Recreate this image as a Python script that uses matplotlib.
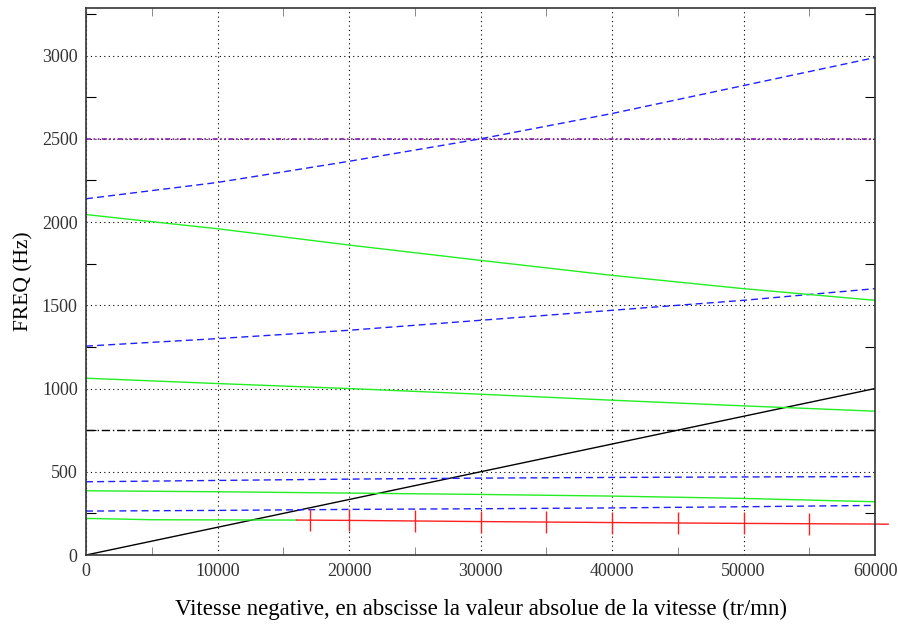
import numpy as np
import matplotlib
matplotlib.use("Agg")
import matplotlib.pyplot as plt
from matplotlib.ticker import MultipleLocator

# speed (tr/mn)
vitesse = [0, 10000, 20000, 30000, 40000, 50000, 60000]

# blue dashed modes
bleu_1 = [2140, 2238, 2365, 2500, 2652, 2820, 2988]
bleu_2 = [1255, 1300, 1350, 1410, 1470, 1530, 1600]
bleu_3 = [440, 448, 456, 462, 466, 469, 471]
bleu_4 = [264, 268, 274, 278, 283, 290, 298]

# green solid modes
vert_1 = [2045, 1960, 1862, 1770, 1680, 1600, 1530]
vert_2 = [1062, 1030, 1000, 966, 930, 896, 864]
vert_3 = [386, 380, 372, 364, 354, 340, 320]

# lowest mode: green then red with markers
vitesse_bas = [0, 5000, 10000, 16000]
vert_4 = [220, 212, 211, 210]
vitesse_rouge = [16000, 20000, 30000, 40000, 50000, 60000, 61000]
rouge = [210, 208, 201, 195, 190, 186, 185]
vitesse_marq = [17000, 20000, 25000, 30000, 35000, 40000, 45000, 50000, 55000]
rouge_marq = [209, 208, 204, 201, 198, 195, 193, 190, 188]

# excitation line and constant frequencies
vitesse_droite = [0, 60000]
excitation = [0, 1000]
freq_const_1 = 750
freq_const_2 = 2500

plt.rcParams['font.family'] = ['Liberation Serif', 'DejaVu Serif']

fig = plt.figure(figsize=(8.98, 6.27), dpi=100)
ax = fig.add_axes([0.0958, 0.1148, 0.8786, 0.8722])

ax.plot(vitesse_droite, excitation, color='black', lw=1)
ax.axhline(freq_const_1, color='black', lw=1, dashes=(6, 2, 1, 2))
ax.axhline(freq_const_2, color='#8a1ab0', lw=1.2, dashes=(3, 1.5, 1, 1.5, 1, 1.5))

for b in [bleu_1, bleu_2, bleu_3, bleu_4]:
    ax.plot(vitesse, b, color='#2020ff', lw=1, dashes=(5, 3))
for v in [vert_1, vert_2, vert_3]:
    ax.plot(vitesse, v, color='#22ee22', lw=1)
ax.plot(vitesse_bas, vert_4, color='#22ee22', lw=1)
ax.plot(vitesse_rouge, rouge, color='#ff2020', lw=1, clip_on=False)
ax.plot(vitesse_marq, rouge_marq, ls='none', marker='|', ms=16, mew=1,
        color='#ff2020')

ax.set_xlim(0, 60000)
ax.set_ylim(0, 3285)
ax.xaxis.set_major_locator(MultipleLocator(10000))
ax.xaxis.set_minor_locator(MultipleLocator(5000))
ax.yaxis.set_major_locator(MultipleLocator(500))
ax.yaxis.set_minor_locator(MultipleLocator(250))
ax.grid(True, which='major', color='black', ls=(0, (1, 3)), lw=0.8)
ax.tick_params(which='both', direction='in', top=True, right=True,
               labelsize=13, labelcolor='#333333', pad=6)
ax.tick_params(which='major', length=0)
ax.tick_params(axis='y', which='minor', length=7, width=0.8)
ax.tick_params(axis='x', which='minor', length=6, width=0.6, color='#777777')
for s in ax.spines.values():
    s.set_linewidth(1.2)
    s.set_color('#333333')

ax.set_ylabel('FREQ (Hz)', fontsize=15.5, labelpad=6)
ax.set_xlabel('Vitesse negative, en abscisse la valeur absolue de la vitesse (tr/mn)',
              fontsize=16.5, labelpad=13)

fig.savefig('out.png', dpi=100)
